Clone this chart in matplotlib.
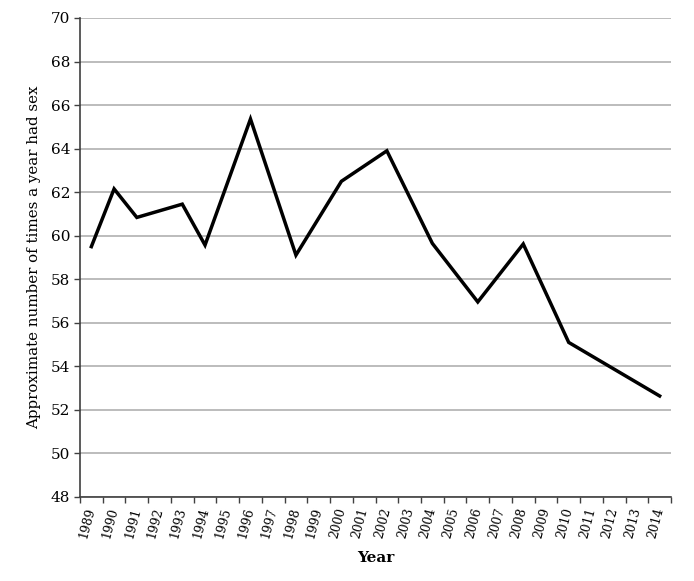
import matplotlib
matplotlib.use("Agg")
import matplotlib.pyplot as plt
import numpy as np

all_years = list(range(1989, 2015))
data_years = [1989, 1990, 1991, 1993, 1994, 1996, 1998, 2000, 2002, 2004, 2006, 2008, 2010, 2014]
values = [59.5, 62.15, 60.84, 61.45, 59.57, 65.36, 59.11, 62.5, 63.9, 59.65, 56.96, 59.62, 55.1, 52.64]
y_ticks = list(range(48, 71, 2))

plt.rcParams['font.family'] = ['DejaVu Serif']

fig = plt.figure(figsize=(6.94, 5.81), dpi=100)
ax = fig.add_axes([80/694, 1-497/581, (671-80)/694, (497-18)/581])

xpos = [all_years.index(y) for y in data_years]
ax.plot(xpos, values, color='black', lw=2.5, solid_joinstyle='miter', zorder=3)

ax.set_xlim(-0.5, len(all_years) - 0.5)
ax.set_ylim(48, 70)
ax.set_yticks(y_ticks)
ax.set_yticklabels([str(v) for v in y_ticks], fontsize=11)
ax.yaxis.grid(True, color='#aaaaaa', lw=1.1)
ax.set_axisbelow(True)

ax.set_xticks(range(len(all_years)))
ax.set_xticklabels([str(y) for y in all_years], rotation=75, fontsize=8.8,
                   rotation_mode='anchor', ha='right', va='center')
ax.tick_params(axis='x', which='major', length=0, pad=8)
ax.set_xticks(np.arange(-0.5, len(all_years)), minor=True)
ax.tick_params(axis='x', which='minor', length=4, width=1, color='#404040')
ax.tick_params(axis='y', length=4, width=1, color='#404040', pad=3)

for s in ['top', 'right']:
    ax.spines[s].set_visible(False)
for s in ['left', 'bottom']:
    ax.spines[s].set_color('#404040')
    ax.spines[s].set_linewidth(1.2)

ax.set_ylabel('Approximate number of times a year had sex', fontsize=10.8, labelpad=7)
ax.set_xlabel('Year', fontsize=11, fontweight='bold', labelpad=8)

fig.savefig('out.png', dpi=100)
